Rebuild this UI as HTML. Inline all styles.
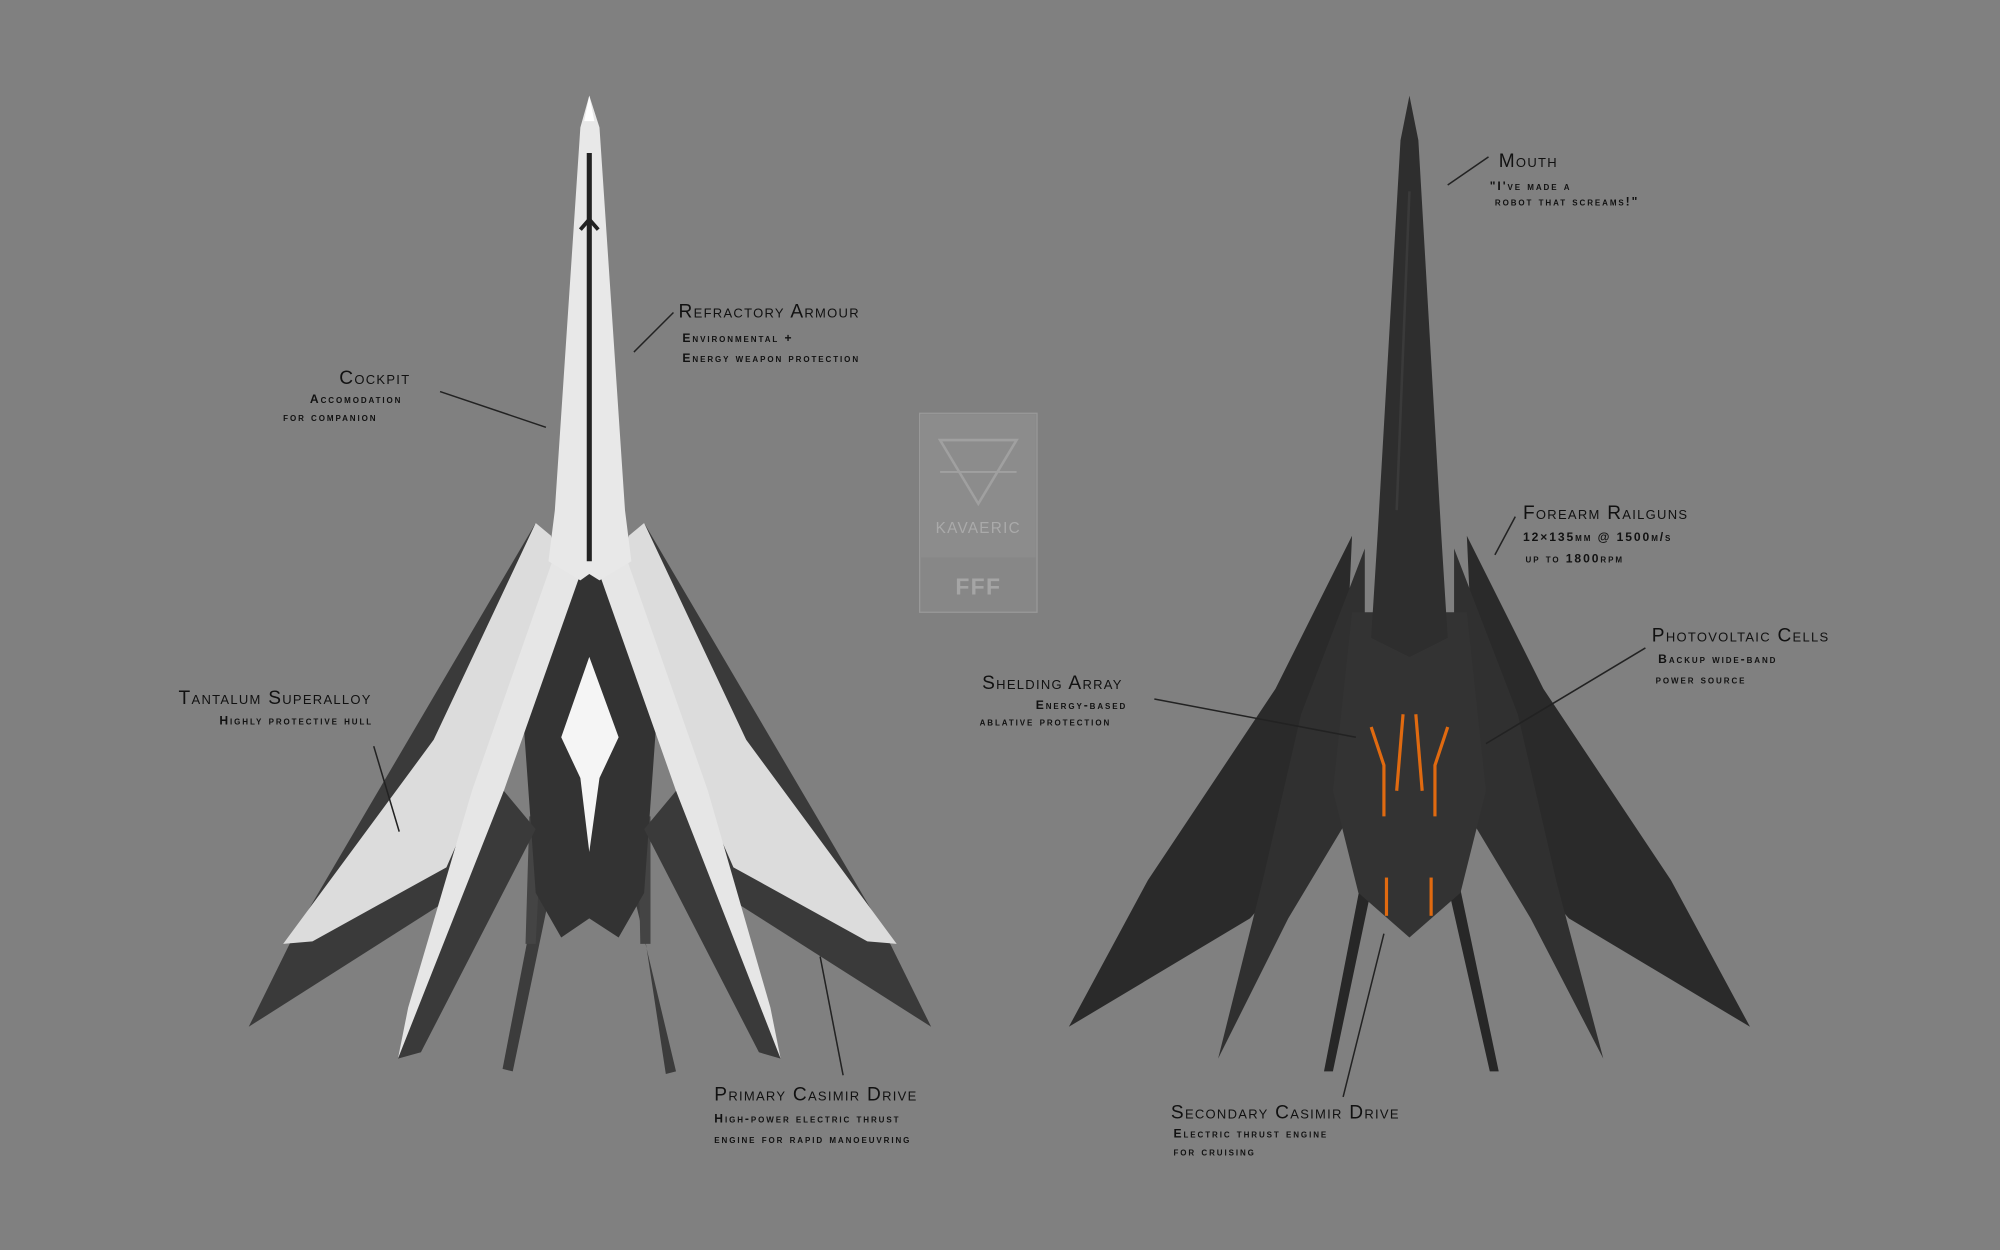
<!DOCTYPE html>
<html><head><meta charset="utf-8"><style>
html,body{margin:0;padding:0;background:#808080;}
svg{display:block}
text{font-family:"Liberation Sans",sans-serif;fill:#111;font-variant:small-caps;letter-spacing:1px}
.t{font-size:15px}
.s{font-size:9.5px;font-weight:bold;letter-spacing:1.5px}
</style></head><body>
<svg width="2000" height="1250" viewBox="0 0 1568 980" xmlns="http://www.w3.org/2000/svg">
<rect width="1568" height="980" fill="#808080"/>

<!-- LEFT SHIP -->
<g>
<polygon points="420,410 232,730 195,805 360,700 440,470" fill="#3a3a3a"/>
<polygon points="505,410 693,730 730,805 565,700 485,470" fill="#3a3a3a"/>
<polygon points="420,410 432,420 442,470 350,680 245,738 222,740 340,580" fill="#dcdcdc"/>
<polygon points="505,410 493,420 483,470 575,680 680,738 703,740 585,580" fill="#dcdcdc"/>
<polygon points="440,600 450,610 402,840 394,838" fill="#3c3c3c"/>
<polygon points="485,600 475,610 530,840 522,842" fill="#3c3c3c"/>
<polygon points="415,640 425,640 420,740 412,740" fill="#444"/>
<polygon points="500,640 510,640 510,740 502,740" fill="#444"/>
<polygon points="462,430 410,560 420,700 440,735 462,720 485,735 505,700 515,560" fill="#333"/>
<polygon points="440,420 455,450 395,620 330,800 312,830 320,790 370,620" fill="#e6e6e6"/>
<polygon points="485,420 470,450 530,620 595,800 612,830 604,790 555,620" fill="#e6e6e6"/>
<polygon points="395,620 312,830 330,825 420,650" fill="#3a3a3a"/>
<polygon points="530,620 612,830 595,825 505,650" fill="#3a3a3a"/>
<polygon points="462,75 470,100 490,400 495,440 470,455 462,450 455,455 430,440 435,400 455,100" fill="#e8e8e8"/>
<polygon points="462,75 466,95 458,95" fill="#fff"/>
<polyline points="462,120 462,440" stroke="#222" stroke-width="4" fill="none"/>
<polyline points="455,180 462,172 469,180 M455,230 462,222 469,230" stroke="#222" stroke-width="3" fill="none"/>
<polygon points="462,515 440,578 455,610 462,668 470,610 485,578" fill="#f5f5f5"/>
</g>

<!-- RIGHT SHIP -->
<g fill="#2c2c2c">
<polygon points="1060,420 1000,540 900,690 838,805 980,720 1050,640" fill="#2a2a2a"/>
<polygon points="1150,420 1210,540 1310,690 1372,805 1230,720 1160,640" fill="#2a2a2a"/>
<polygon points="1070,430 1020,560 990,690 955,830 1010,720 1070,620" fill="#303030"/>
<polygon points="1140,430 1190,560 1220,690 1257,830 1200,720 1140,620" fill="#303030"/>
<polygon points="1075,650 1085,650 1045,840 1038,840" fill="#272727"/>
<polygon points="1135,650 1125,650 1168,840 1175,840" fill="#272727"/>
<polygon points="1060,480 1150,480 1165,620 1145,700 1105,735 1065,700 1045,620" fill="#333"/>
<polygon points="1105,75 1112,110 1130,420 1135,500 1105,515 1075,500 1080,420 1098,110" fill="#2e2e2e"/>
<polyline points="1105,150 1095,400 M1105,150 1115,400" stroke="#3a3a3a" stroke-width="2" fill="none"/>
<g stroke="#e06a10" stroke-width="2.5" fill="none">
<polyline points="1075,570 1085,600 1085,640"/>
<polyline points="1135,570 1125,600 1125,640"/>
<polyline points="1100,560 1095,620"/>
<polyline points="1110,560 1115,620"/>
<polyline points="1087,688 1087,718"/>
<polyline points="1122,688 1122,718"/>
</g>
</g>

<!-- logo -->
<rect x="721" y="324" width="92" height="156" fill="#878787" stroke="#999" stroke-width="1"/>
<rect x="722" y="325" width="90" height="112" fill="#8c8c8c"/>
<polygon points="737,345 797,345 767,395" fill="none" stroke="#a0a0a0" stroke-width="2"/>
<line x1="737" y1="370" x2="797" y2="370" stroke="#a0a0a0" stroke-width="1.5"/>
<text x="767" y="418" text-anchor="middle" style="font-size:12px;fill:#aaa;font-variant:normal">KAVAERIC</text>
<text x="767" y="466" text-anchor="middle" style="font-size:18px;fill:#a5a5a5;font-weight:bold">FFF</text>

<!-- leaders -->
<g stroke="#222" stroke-width="1.2" fill="none">
<line x1="345" y1="307" x2="428" y2="335"/>
<line x1="528" y1="245" x2="497" y2="276"/>
<line x1="293" y1="585" x2="313" y2="652"/>
<line x1="643" y1="750" x2="661" y2="843"/>
<line x1="1167" y1="123" x2="1135" y2="145"/>
<line x1="1188" y1="405" x2="1172" y2="435"/>
<line x1="1290" y1="508" x2="1165" y2="583"/>
<line x1="905" y1="548" x2="1063" y2="578"/>
<line x1="1085" y1="732" x2="1053" y2="860"/>
</g>

<!-- labels -->
<text class="t" x="266" y="301">Cockpit</text>
<text class="s" x="243" y="316">Accomodation</text>
<text class="s" x="222" y="330">for companion</text>

<text class="t" x="532" y="249">Refractory Armour</text>
<text class="s" x="535" y="268">Environmental +</text>
<text class="s" x="535" y="284">Energy weapon protection</text>

<text class="t" x="140" y="552">Tantalum Superalloy</text>
<text class="s" x="172" y="568">Highly protective hull</text>

<text class="t" x="560" y="863">Primary Casimir Drive</text>
<text class="s" x="560" y="880">High-power electric thrust</text>
<text class="s" x="560" y="896">engine for rapid manoeuvring</text>

<text class="t" x="1175" y="131">Mouth</text>
<text class="s" x="1168" y="149">"I've made a</text>
<text class="s" x="1172" y="161">robot that screams!"</text>

<text class="t" x="1194" y="407">Forearm Railguns</text>
<text class="s" x="1194" y="424">12×135mm @ 1500m/s</text>
<text class="s" x="1196" y="441">up to 1800rpm</text>

<text class="t" x="1295" y="503">Photovoltaic Cells</text>
<text class="s" x="1300" y="520">Backup wide-band</text>
<text class="s" x="1298" y="536">power source</text>

<text class="t" x="770" y="540">Shelding Array</text>
<text class="s" x="812" y="556">Energy-based</text>
<text class="s" x="768" y="569">ablative protection</text>

<text class="t" x="918" y="877">Secondary Casimir Drive</text>
<text class="s" x="920" y="892">Electric thrust engine</text>
<text class="s" x="920" y="906">for cruising</text>
</svg>
</body></html>
